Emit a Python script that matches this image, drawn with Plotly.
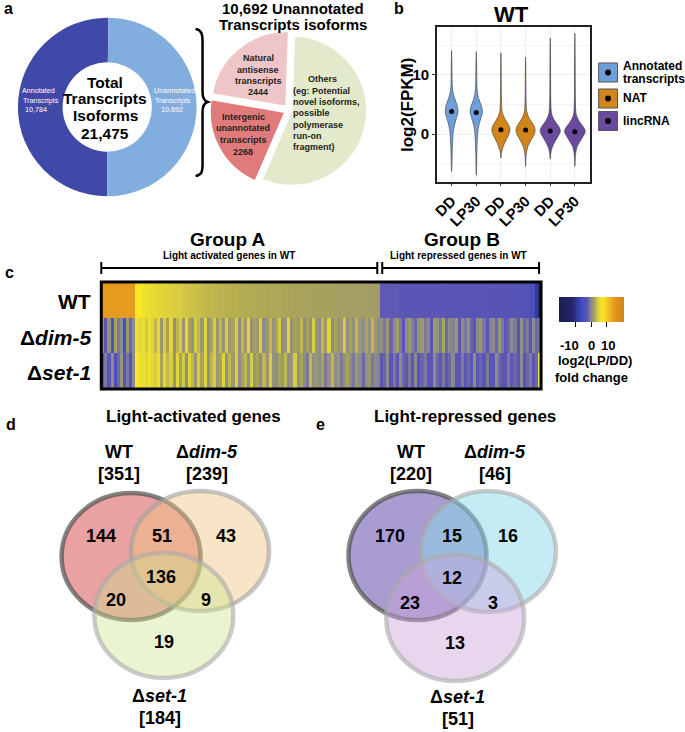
import plotly.graph_objects as go

W, H = 685, 732
FONT = 'Liberation Sans, Arial, sans-serif'

# ---- panel a data
donut_labels = ['Annotated Transcripts', 'Unannotated Transcripts']
donut_values = [10784, 10692]
natural_antisense = 2444
intergenic = 2268
others = donut_values[1] - natural_antisense - intergenic
pie_labels = ['Others', 'Intergenic unannotated transcripts', 'Natural antisense transcripts']
pie_values = [others, intergenic, natural_antisense]

# ---- panel b data (violin outlines: y level, half width)
violin_ticks = ['DD', 'LP30', 'DD', 'LP30', 'DD', 'LP30']
violin_names = ['Annotated transcripts', 'NAT', 'lincRNA']
ann_dd_y = [-6.3, -5.0, -3.2, -1.5, 0.0, 1.2, 2.2, 3.0, 3.8, 4.6, 5.4, 6.2, 7.0, 8.0, 9.5, 11.5, 14.1]
ann_dd_w = [0, 0.015, 0.025, 0.04, 0.06, 0.1, 0.16, 0.22, 0.26, 0.24, 0.18, 0.11, 0.06, 0.03, 0.02, 0.015, 0]
ann_lp_y = [-6.9, -5.5, -3.5, -1.5, 0.0, 1.2, 2.2, 3.0, 3.65, 4.4, 5.2, 6.0, 7.0, 8.0, 9.5, 11.5, 13.9]
ann_lp_w = [0, 0.012, 0.02, 0.035, 0.055, 0.09, 0.15, 0.21, 0.25, 0.23, 0.17, 0.1, 0.05, 0.03, 0.02, 0.015, 0]
nat_dd_y = [-4.0, -3.2, -2.5, -1.5, -0.5, 0.2, 0.75, 1.5, 2.3, 3.0, 3.8, 4.8, 6.0, 8.0, 10.5, 13.7]
nat_dd_w = [0, 0.02, 0.06, 0.15, 0.27, 0.34, 0.37, 0.32, 0.2, 0.11, 0.05, 0.03, 0.02, 0.015, 0.012, 0]
nat_lp_y = [-5.4, -4.0, -3.0, -2.0, -1.0, 0.0, 0.7, 1.5, 2.3, 3.0, 3.8, 4.8, 6.0, 8.0, 10.5, 13.0]
nat_lp_w = [0, 0.015, 0.04, 0.1, 0.22, 0.35, 0.39, 0.33, 0.2, 0.11, 0.05, 0.03, 0.02, 0.015, 0.012, 0]
linc_dd_y = [-4.2, -3.3, -2.5, -1.5, -0.5, 0.1, 0.55, 1.2, 2.0, 2.8, 3.6, 4.5, 6.0, 8.5, 12.0, 16.2]
linc_dd_w = [0, 0.02, 0.06, 0.16, 0.3, 0.38, 0.41, 0.36, 0.22, 0.11, 0.05, 0.03, 0.02, 0.015, 0.012, 0]
linc_lp_y = [-5.4, -4.0, -3.0, -2.0, -1.0, 0.0, 0.4, 1.0, 1.8, 2.6, 3.4, 4.3, 6.0, 8.5, 12.0, 17.0]
linc_lp_w = [0, 0.015, 0.04, 0.1, 0.24, 0.38, 0.42, 0.38, 0.24, 0.12, 0.05, 0.03, 0.02, 0.015, 0.012, 0]
violin_medians = [3.8, 3.65, 0.75, 0.7, 0.55, 0.4]

# ---- panel c data, log2(LP/DD): group A (light activated) then group B (light repressed)
wt_a = [15, 15, 15, 15, 15, 15, 15, 15, 15, 15,
        15, 7, 7, 6.5, 6, 6, 5.5, 5.5, 5, 5,
        4.8, 4.6, 4.5, 4.2, 4, 4, 3.8, 3.6, 3.5, 3.5,
        3.4, 3.3, 3.2, 3, 3, 3, 2.9, 2.9, 2.8, 2.8,
        2.7, 2.7, 2.6, 2.6, 2.5, 2.5, 2.4, 2.4, 2.4, 2.3,
        2.3, 2.3, 2.3, 2.2, 2.2, 2.2, 2.2, 2.2, 2.1, 2.1,
        2.1, 2.1, 2.0, 2.0, 2.0, 1.9, 1.9, 1.9, 1.9, 1.8,
        1.8, 1.8, 1.8, 1.8, 1.8, 1.7, 1.7, 1.7, 1.7, 1.7,
        1.7, 1.6, 1.6, 1.6, 1.6, 1.6, 1.6, 1.5, 1.5, 1.5]
wt_b = [-2.8, -2.8, -2.8, -2.8, -2.8, -2.8, -3, -3, -3, -3,
        -3, -3, -3, -3, -3, -3, -3, -3, -3, -3,
        -3, -3.2, -3.2, -3.2, -3.2, -3.2, -3.2, -3.2, -3.2, -3.2,
        -3.2, -3.2, -3.2, -3.2, -3.2, -3.2, -3.4, -3.4, -3.4, -3.4,
        -3.4, -3.4, -3.4, -3.4, -3.4, -4, -4, -4, -5, -5,
        -9, -12]
dim5_a = [1, -3, 0.5, -4, 2, -1, 0, -5, 1, -2,
          0, 6, 5, 6, 4, 6, 5, 3, 5, 1,
          4, 2, 5, 0.5, 3, 4, 1, 5, 2, 0.5,
          4, 3, 1, 5, 0, 2, 4, 1, 3, 0.5,
          4, 1, 2, 4, 0, 3, 1, 5, 0.5, 2,
          1, 4, 0, 1, 3, 0.5, 2, 4, 0, 1,
          5, 0.5, 2, 1, 3, 0, 2, 0.5, 4, 1,
          0, 3, 1, 5, 0, 2, 0.5, 1, 4, 0,
          2, 0.5, 3, 1, 0, 2, 0.5, 3, 1, 0]
dim5_b = [0.5, -1, 1, -2, 0, 1.5, -1, -3, 0, 1,
          -0.5, -2, 0.5, 1, -1, 0, -3, 1, 0.5, -1,
          2, -2, 0, -0.5, 1, -3, 0, -1, 0.5, -2,
          -3, 0, 1, -1, -3, -0.5, 0, -2, 1, -1,
          -3, -2, 0, -1, -3, 0.5, -2, -1, -3, 0,
          -2, -1]
set1_a = [-4, -1, -3, 0, -5, -2, 1, -3, -1, -4,
          0, 7, 6, 6, 5, 6, 5, 4, 6, 2,
          5, 3, 4, 1, 5, 2, 4, 0.5, 5, 3,
          1, 4, 2, 5, 0.5, 3, 4, 1, 2, 5,
          0.5, 3, 1, 4, 0, 2, 3, 0.5, 4, 1,
          2, 0, 3, 1, 4, 0.5, 0, 2, 1, 3,
          0, 1, 4, 0.5, 2, 0, -1, 3, 0.5, 1,
          0, 2, -1, 0.5, 3, 0, 1, -1, 0.5, 2,
          0, -1, 1, 0, -2, 0.5, 1, -1, 0, -0.5]
set1_b = [-3, -2, 0, -3, -1, -3, 0, -2, -3, -1,
          -3, 0, -3, -2, -1, -3, -3, 0, -2, -3,
          -1, -3, -2, 0, -3, -3, -1, -3, -2, -3,
          0, -3, -2, -3, -1, -3, -3, 0, -2, -3,
          -3, -1, -3, -2, -3, 0, -3, -2, -1, -3,
          -2, 6]
heat_rows = ['WT', 'Δ<i>dim-5</i>', 'Δ<i>set-1</i>']
cbar_ticks = [-10, 0, 10]

# ---- panels d/e data
venn_sets = ['WT', 'Δ<i>dim-5</i>', 'Δ<i>set-1</i>']
activated_totals = [351, 239, 184]
activated_counts = [144, 51, 43, 136, 20, 9, 19]   # WT only, WT&dim5, dim5 only, all, WT&set1, dim5&set1, set1 only
repressed_totals = [220, 46, 51]
repressed_counts = [170, 15, 16, 12, 23, 3, 13]


def px(x):
    return x / W


def py(y):
    return 1 - y / H


fig = go.Figure()


def label(text, x, y, size, color='black', bold=True, anchor='center', angle=0, pad=1):
    fig.add_annotation(
        text=text, x=px(x), y=py(y), xref='paper', yref='paper', showarrow=False,
        font=dict(family=FONT, size=size, color=color, weight='bold' if bold else 'normal'),
        xanchor=anchor, yanchor='middle', textangle=angle, borderpad=pad)


# ---------------- panel a
fig.add_trace(go.Pie(
    labels=donut_labels, values=donut_values, hole=0.5, sort=False,
    direction='clockwise', rotation=180, textinfo='none',
    marker=dict(colors=['#3F49A7', '#82AEDF'], line=dict(width=0)),
    domain=dict(x=[px(13), px(193)], y=[py(197), py(17)])))
fig.add_trace(go.Pie(
    labels=pie_labels, values=pie_values, sort=False,
    direction='clockwise', rotation=2, textinfo='none', pull=[0.04, 0.06, 0.06],
    marker=dict(colors=['#E3E9CB', '#E17B7B', '#EFC6C8'], line=dict(width=1.5, color='white')),
    domain=dict(x=[px(206), px(366)], y=[py(190), py(30)])))

label('a', 4, 9, 16)
for t, yy in zip(['Total', 'Transcripts', 'Isoforms', '21,475'], [82, 99, 116, 133]):
    label(t, 101, yy, 15.5)
# small white labels inside the ring: one annotation per line so line spacing stays tight
for t, xx, yy in zip(['Annotated', 'Transcripts', '10,784'], [34, 36, 31], [91, 100, 109]):
    label(t, xx, yy, 7.2, color='white', bold=False, pad=0)
for t, xx, yy in zip(['Unannotated', 'Transcripts', '10,692'], [171, 169, 168], [91, 100, 109]):
    label(t, xx, yy, 7.2, color='white', bold=False, pad=0)
label('10,692 Unannotated', 290, 8, 15)
label('Transcripts isoforms', 290, 25, 15)
for t, yy in zip(['Natural', 'antisense', 'transcripts', '2444'], [58, 70, 81, 92]):
    label(t, 255, yy, 9, color='#222222', pad=0)
for t, yy in zip(['Intergenic', 'unannotated', 'transcripts', '2268'], [117, 128, 140, 152]):
    label(t, 240, yy, 9, color='#222222', pad=0)
label('Others', 320, 79, 9, color='#222222', pad=0)
for t, yy in zip(['(eg: Potential', 'novel isoforms,', 'possible', 'polymerase', 'run-on', 'fragment)'],
                 [91, 102, 113, 125, 136, 147]):
    label(t, 289, yy, 9, color='#222222', anchor='left', pad=0)

brace = [('M', 192, 29), ('C', 198, 30), ('', 199, 34), ('', 199, 42), ('L', 199, 92),
         ('C', 199, 99), ('', 201, 101), ('', 204, 102), ('C', 201, 103), ('', 199, 105),
         ('', 199, 112), ('L', 199, 164), ('C', 199, 172), ('', 198, 175), ('', 192, 176)]
path = ' '.join(f'{c} {px(x):.5f},{py(y):.5f}' if c else f'{px(x):.5f},{py(y):.5f}' for c, x, y in brace)
fig.add_shape(type='path', path=path, xref='paper', yref='paper', line=dict(color='black', width=2.5))

# ---------------- panel b
violin_colors = ['#6E9FDA', '#6E9FDA', '#D2851A', '#D2851A', '#6A4A9E', '#6A4A9E']
profiles = [(ann_dd_y, ann_dd_w), (ann_lp_y, ann_lp_w), (nat_dd_y, nat_dd_w),
            (nat_lp_y, nat_lp_w), (linc_dd_y, linc_dd_w), (linc_lp_y, linc_lp_w)]
for i, (ys, ws) in enumerate(profiles):
    xs = [i + w for w in ws] + [i - w for w in ws[::-1]]
    yy = ys + ys[::-1]
    fig.add_trace(go.Scatter(
        x=xs, y=yy, fill='toself', fillcolor=violin_colors[i], mode='lines',
        line=dict(color='#3A3A3A', width=0.6, shape='spline', smoothing=0.8),
        xaxis='x', yaxis='y', hoverinfo='skip'))
fig.add_trace(go.Scatter(
    x=list(range(6)), y=violin_medians, mode='markers',
    marker=dict(color='black', size=5), xaxis='x', yaxis='y'))

label('b', 397, 8, 16)
label('WT', 510, 14, 22)
label('log2(FPKM)', 405, 105, 17, angle=-90)

legend_colors = ['#6E9FDA', '#D2851A', '#6A4A9E']
key_tops = [63, 89, 111.5]
for c, top in zip(legend_colors, key_tops):
    fig.add_shape(type='rect', xref='paper', yref='paper', x0=px(598), x1=px(617),
                  y0=py(top + 19), y1=py(top), fillcolor=c, line=dict(color='#555555', width=1))
    fig.add_shape(type='circle', xref='paper', yref='paper', x0=px(604.5), x1=px(610.5),
                  y0=py(top + 12.5), y1=py(top + 6.5), fillcolor='black', line=dict(width=0))
label('Annotated', 622, 66, 12, anchor='left', pad=0)
label('transcripts', 622, 79, 12, anchor='left', pad=0)
label(violin_names[1], 622, 98, 12, anchor='left', pad=0)
label(violin_names[2], 622, 121, 12, anchor='left', pad=0)

# ---------------- panel c
z = [wt_a + wt_b, dim5_a + dim5_b, set1_a + set1_b]
cols = list(range(len(z[0])))
scale = [[0.0, '#1C1C50'], [0.214, '#25286E'], [0.333, '#3B48BA'], [0.43, '#5B56B6'],
         [0.5, '#8C8C8C'], [0.548, '#A9A35A'], [0.595, '#D8CC40'], [0.667, '#F8E826'],
         [0.786, '#F0B422'], [0.881, '#E3921C'], [1.0, '#CF861A']]
fig.add_trace(go.Heatmap(
    z=z, x=cols, y=[0, 1, 2], zmin=-21, zmax=21, colorscale=scale,
    xaxis='x2', yaxis='y2', hoverinfo='skip',
    colorbar=dict(orientation='h', x=px(590.5), xanchor='center', y=py(297), yanchor='top',
                  len=65, lenmode='pixels', thickness=25, xpad=0, ypad=0,
                  tickvals=cbar_ticks, showticklabels=False,
                  ticks='outside', ticklen=5, tickcolor='black', outlinewidth=0)))
fig.add_shape(type='rect', xref='x2 domain', yref='y2 domain', x0=0, x1=1, y0=0, y1=1,
              line=dict(color='black', width=3))

label('c', 5, 272, 16)
label('Group A', 225, 240, 19)
label('Light activated genes in WT', 226, 256, 10)
label('Group B', 460, 240, 19)
label('Light repressed genes in WT', 457, 256, 10)
for x0, x1 in [(97, 375), (380, 538)]:
    fig.add_shape(type='line', xref='paper', yref='paper', x0=px(x0), x1=px(x1), y0=py(268), y1=py(268),
                  line=dict(color='black', width=2))
    for xx in (x0, x1):
        fig.add_shape(type='line', xref='paper', yref='paper', x0=px(xx), x1=px(xx), y0=py(262), y1=py(274),
                      line=dict(color='black', width=2))
for t, yy in zip(heat_rows, [301, 337, 373]):
    label(t, 89, yy, 21, anchor='right')
for t, xx in zip(cbar_ticks, [569, 591, 607]):
    label(str(t), xx, 345, 13, pad=0)
label('log2(LP/DD)', 594, 361, 13, pad=0)
label('fold change', 591, 377, 13, pad=0)

# ---------------- panels d / e
def venn(boxes, fills, lines, totals, counts, title, title_x, set_pos, count_pos):
    for (x0, y0, x1, y1), f, ln in zip(boxes, fills, lines):
        fig.add_shape(type='circle', xref='paper', yref='paper', x0=px(x0), x1=px(x1),
                      y0=py(y1), y1=py(y0), fillcolor=f, line=dict(color=ln, width=4.5))
    label(title, title_x, 416, 17)
    for name, tot, (xx, yy) in zip(venn_sets, totals, set_pos):
        label(name, xx, yy, 18)
        label(f'[{tot}]', xx, yy + 22, 18)
    for n, (xx, yy) in zip(counts, count_pos):
        label(str(n), xx, yy, 18)


venn([(57, 493, 197, 620), (127, 491, 266, 611), (90, 553, 230, 678)],
     ['rgba(215,75,75,0.52)', 'rgba(240,195,130,0.45)', 'rgba(205,228,140,0.4)'],
     ['rgba(80,80,80,0.7)', 'rgba(160,160,160,0.6)', 'rgba(170,170,170,0.6)'],
     activated_totals, activated_counts, 'Light-activated genes', 190,
     [(115, 452), (203, 452), (156, 696)],
     [(97, 536), (158, 536), (223, 536), (157, 577), (112, 600), (202, 600), (160, 642)])
venn([(346, 491, 485, 620), (419, 491, 555, 612), (384, 555, 523, 681)],
     ['rgba(115,95,180,0.62)', 'rgba(140,215,235,0.5)', 'rgba(205,165,220,0.45)'],
     ['rgba(80,80,80,0.7)', 'rgba(170,170,170,0.6)', 'rgba(170,170,170,0.6)'],
     repressed_totals, repressed_counts, 'Light-repressed genes', 463,
     [(409, 452), (494, 452), (456, 697)],
     [(388, 536), (450, 536), (507, 536), (450, 578), (408, 603), (492, 603), (453, 643)])
label('d', 6, 424, 16)
label('e', 318, 424, 16)

fig.update_layout(
    width=W, height=H, margin=dict(l=0, r=0, t=0, b=0),
    paper_bgcolor='white', plot_bgcolor='white', showlegend=False,
    font=dict(family=FONT, color='black'),
    xaxis=dict(domain=[px(435), px(589)], range=[-0.6, 5.6], tickvals=list(range(6)),
               ticktext=[f'<b>{t}</b>' for t in violin_ticks], tickangle=-45,
               tickfont=dict(size=15, color='black'), showline=True, mirror=True,
               linecolor='#222222', linewidth=1.5, showgrid=True, gridcolor='#EEEEEE',
               ticks='outside', ticklen=3, tickcolor='#333333', zeroline=False),
    yaxis=dict(domain=[py(181.7), py(26.7)], range=[-8.0, 18.1], tickvals=[0, 10],
               ticktext=['<b>0</b>', '<b>10</b>'], tickfont=dict(size=15, color='black'),
               showline=True, mirror=True, linecolor='#222222', linewidth=1.5,
               showgrid=True, gridcolor='#EEEEEE', zeroline=False,
               ticks='outside', ticklen=3, tickcolor='#333333',
               minor=dict(tickvals=[-5, 5, 15], showgrid=True, gridcolor='#F4F4F4', ticks='')),
    xaxis2=dict(domain=[px(97), px(540)], range=[-0.5, len(cols) - 0.5], visible=False, anchor='y2'),
    yaxis2=dict(domain=[py(389), py(282)], range=[2.5, -0.5], visible=False, anchor='x2'),
)

# page body has a default 8px margin; drop it so the figure sits at the window origin
fig.write_html('out.html', config={'displayModeBar': False},
               post_script="document.body.style.margin='0';")
